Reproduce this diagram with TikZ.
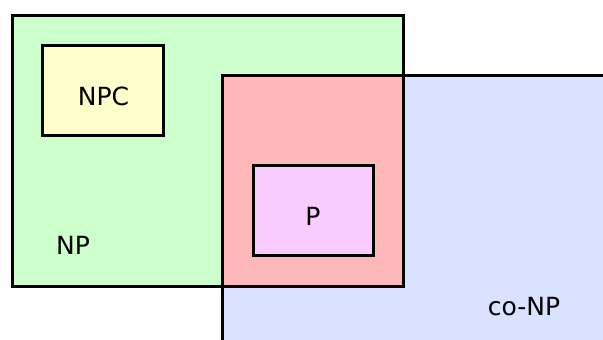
\documentclass[tikz,border=0pt]{standalone}
\usepackage{fontspec}
\setmainfont{DejaVu Sans}
\definecolor{npgreen}{RGB}{204,255,204}
\definecolor{conpblue}{RGB}{217,227,255}
\definecolor{interred}{RGB}{255,184,184}
\definecolor{npcyellow}{RGB}{255,255,204}
\definecolor{ppink}{RGB}{248,204,255}
\tikzset{
  setbox/.style={draw=black, line width=3pt},
  lbl/.style={font=\fontsize{25}{30}\selectfont, inner sep=0pt}
}
\begin{document}
\begin{tikzpicture}[x=1pt,y=-1pt]
\useasboundingbox (0,0) rectangle (603,340);
% fills
\fill[npgreen] (12,15) rectangle (403,286);
\fill[conpblue] (222,75) rectangle (610,345);
\fill[interred] (222,75) rectangle (403,286);
% borders
\draw[setbox] (12,15) rectangle (403,286);
\draw[setbox] (222,345) -- (222,75) -- (610,75);
% inner boxes
\node[setbox, fill=npcyellow, minimum width=121pt, minimum height=90pt, inner sep=0pt] (npc) at (102.5,90) {};
\node[setbox, fill=ppink, minimum width=120pt, minimum height=90pt, inner sep=0pt] (p) at (313,210) {};
% labels
\node[lbl] (npct) at (103.5,96) {NPC};
\node[lbl] (pt) at (313,216.5) {P};
\node[lbl] (np) at (73,245) {NP};
\node[lbl] (conp) at (524,307) {co-NP};
\end{tikzpicture}
\end{document}
